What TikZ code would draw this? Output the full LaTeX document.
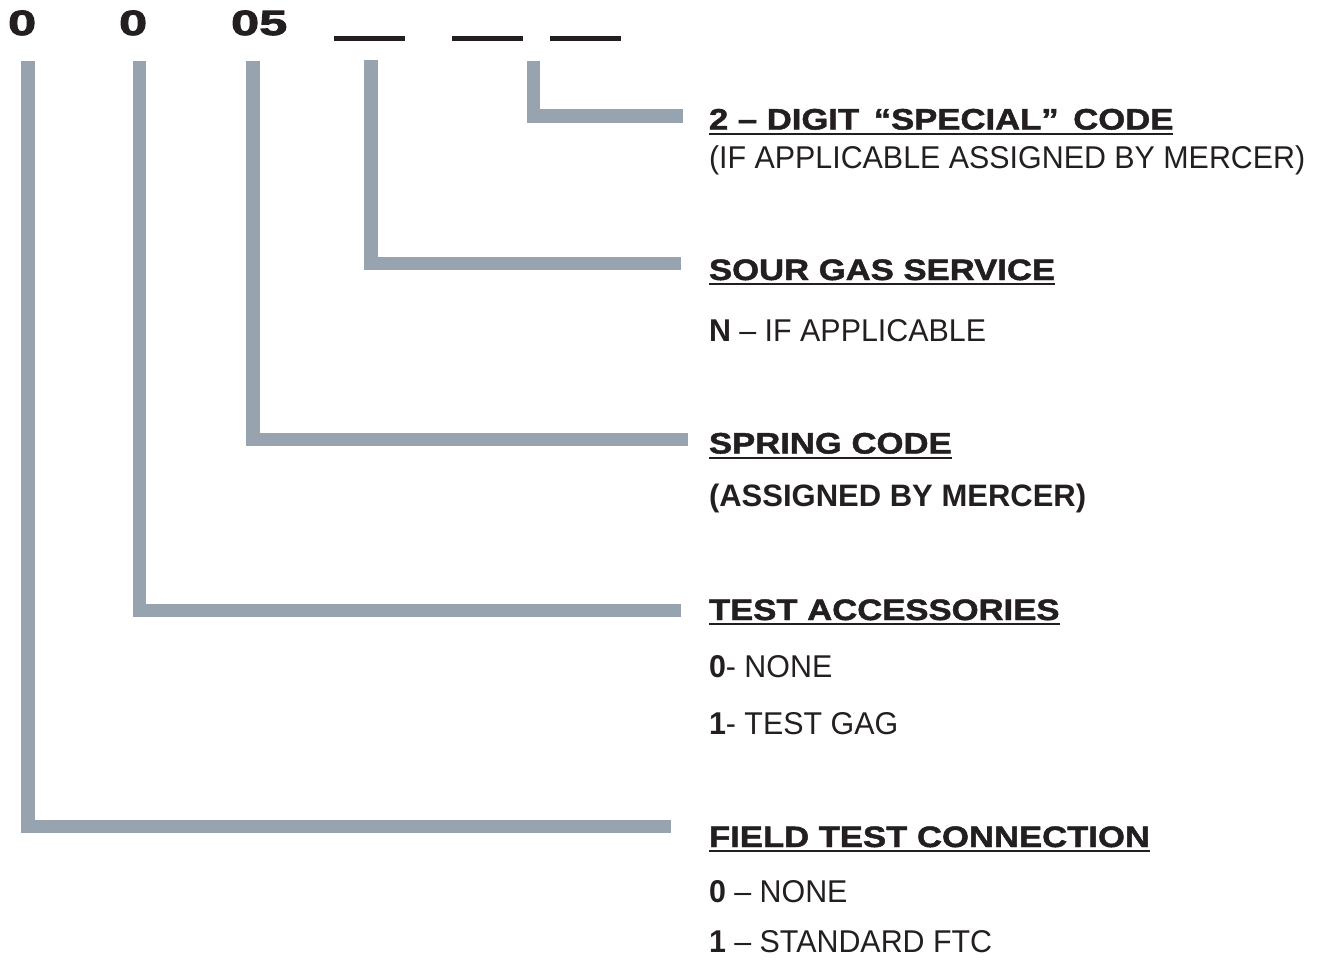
\documentclass[tikz,border=0pt]{standalone}
\usepackage{fontspec}
\setmainfont{Liberation Sans}
\newfontfamily\titlefont{Liberation Sans}[UprightFont=* Bold, FakeStretch=1.175, FakeBold=1.6]
\newfontfamily\codefont{Liberation Sans}[UprightFont=* Bold, FakeStretch=1.45, FakeBold=2.5]
\newfontfamily\bodyfont{Liberation Sans}[FakeStretch=0.965]
\definecolor{conncol}{RGB}{151,163,174}
\definecolor{ink}{RGB}{35,31,32}
\tikzset{
  conn/.style={draw=conncol, line width=13.5pt, line cap=butt, line join=miter},
  txt/.style={anchor=base west, inner sep=0pt, outer sep=0pt, text=ink},
  title/.style={txt, font=\titlefont\fontsize{29.5}{30}\selectfont},
  body/.style={txt, font=\bodyfont\fontsize{31.5}{32}\selectfont},
  bodyb/.style={txt, font=\bfseries\fontsize{31}{32}\selectfont},
  code/.style={txt, font=\codefont\fontsize{35}{36}\selectfont},
  blank/.style={fill=ink, draw=none, inner sep=0pt, minimum width=71pt, minimum height=5pt, anchor=north west},
  uline/.style={draw=ink, line width=1.8pt}
}
\begin{document}
\begin{tikzpicture}[x=1pt,y=-1pt]
\useasboundingbox (0,0) rectangle (1324,963);

% code digits and blanks
\node[code] (d1) at (8,35) {0};
\node[code] (d2) at (119,35) {0};
\node[code] (d3) at (231,35) {05};
\node[blank] (u4) at (334,35.5) {};
\node[blank] (u5) at (452,35.5) {};
\node[blank] (u6) at (550,35.5) {};

% titles
\node[title] (t5) at (709,129.5) {2 – DIGIT\, “SPECIAL”\, CODE};
\node[body]  (b5) at (709,168) {(IF APPLICABLE ASSIGNED BY MERCER)};

\node[title] (t4) at (709,280) {SOUR GAS SERVICE};
\node[body]  (b4) at (709,341.5) {\textbf{N} – IF APPLICABLE};

\node[title] (t3) at (709,453.5) {SPRING CODE};
\node[bodyb] (b3) at (709,506) {(ASSIGNED BY MERCER)};

\node[title] (t2) at (709,620) {TEST ACCESSORIES};
\node[body]  (b2a) at (709,677) {\textbf{0}- NONE};
\node[body]  (b2b) at (709,734) {\textbf{1}- TEST GAG};

\node[title] (t1) at (709,847) {FIELD TEST CONNECTION};
\node[body]  (b1a) at (709,902.5) {\textbf{0} – NONE};
\node[body]  (b1b) at (709,952) {\textbf{1} – STANDARD FTC};

% underlines
\foreach \t in {t1,t2,t3,t4,t5}
  \draw[uline] ([yshift=-4.2pt]\t.base west) -- ([yshift=-4.2pt]\t.base east);

% connector end points
\coordinate (s1) at (27.8,61);   \coordinate (e1) at (671,826.5);
\coordinate (s2) at (139.5,61);  \coordinate (e2) at (681,610.5);
\coordinate (s3) at (252.8,61);  \coordinate (e3) at (688,439.5);
\coordinate (s4) at (370.8,60);  \coordinate (e4) at (681,263.5);
\coordinate (s5) at (533.5,61);  \coordinate (e5) at (683,116);

\draw[conn] (s1) |- (e1);
\draw[conn] (s2) |- (e2);
\draw[conn] (s3) |- (e3);
\draw[conn] (s4) |- (e4);
\draw[conn] (s5) |- (e5);
\end{tikzpicture}
\end{document}
